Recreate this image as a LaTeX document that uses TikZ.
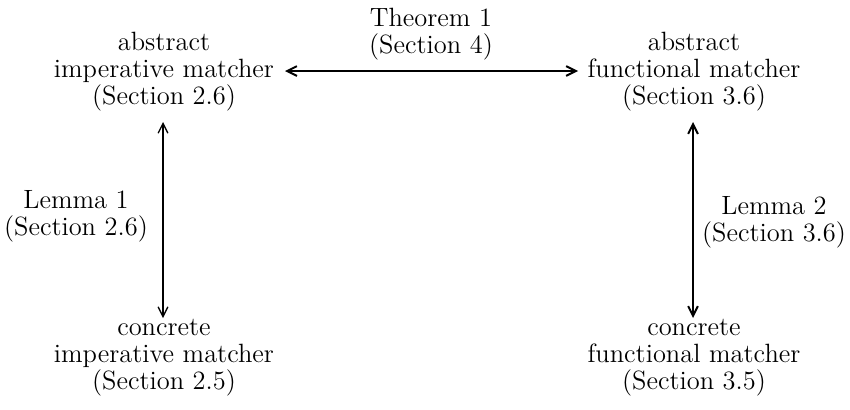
\documentclass[tikz,border=0pt]{standalone}
\usetikzlibrary{arrows.meta}
\begin{document}
\begin{tikzpicture}[x=0.4615pt,y=-0.4615pt,
  every node/.style={font=\fontsize{12.2}{12.4}\selectfont},
  box/.style={align=center,inner sep=1pt},
  lbl/.style={align=center,inner sep=1pt},
  arr/.style={{Straight Barb[length=4.5pt,width=4.5pt]}-{Straight Barb[length=4.5pt,width=4.5pt]}},
]
\useasboundingbox (0,0) rectangle (850,409);
\node[box] (lt) at (164,72) {abstract\\imperative matcher\\(Section 2.6)};
\node[box] (rt) at (694,72) {abstract\\functional matcher\\(Section 3.6)};
\node[box] (lb) at (164,358) {concrete\\imperative matcher\\(Section 2.5)};
\node[box] (rb) at (694,358) {concrete\\functional matcher\\(Section 3.5)};
\node[lbl] (th) at (431,34) {Theorem 1\\(Section 4)};
\node[lbl] (l1) at (76,216) {Lemma 1\\(Section 2.6)};
\node[lbl] (l2) at (774,222) {Lemma 2\\(Section 3.6)};
\coordinate (a1) at (285,71); \coordinate (a2) at (578,71);
\coordinate (b1) at (163,122); \coordinate (b2) at (163,318);
\coordinate (c1) at (693,122); \coordinate (c2) at (693,318);
\draw[arr,line width=0.9pt] (a1) -- (a2);
\draw[arr,line width=0.6pt] (b1) -- (b2);
\draw[arr,line width=0.9pt] (c1) -- (c2);
\end{tikzpicture}
\end{document}
